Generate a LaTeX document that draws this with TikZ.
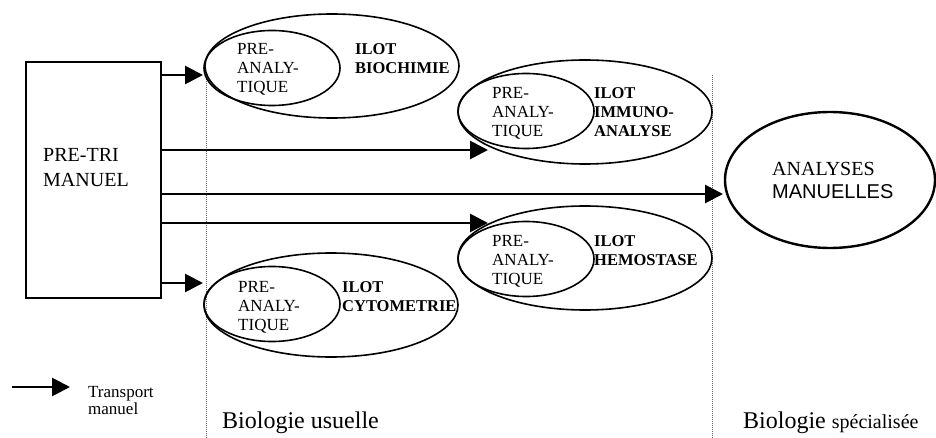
\documentclass[tikz,border=0pt]{standalone}
\usepackage{fontspec}
\setmainfont{Liberation Serif}
\newfontfamily\arialfont{Liberation Sans}
\usetikzlibrary{arrows.meta,shapes.geometric}
\newcommand{\fs}[2]{\fontsize{#1}{#2}\selectfont}
\newcommand{\preana}{PRE-\\ANALY-\\TIQUE}

\tikzset{
  ilot/.style={draw,ellipse,line width=1.6pt,inner sep=0pt,minimum width=254pt,minimum height=104pt},
  prebox/.style={draw,ellipse,line width=1.6pt,inner sep=0pt,minimum width=136pt,minimum height=75pt},
  lbl/.style={anchor=north west,inner sep=0pt,align=left,font=\fs{17}{19}},
  transport/.style={line width=2.8pt,-{Triangle[length=18pt,width=18pt]}},
  sep/.style={black!60,line width=0.8pt,dash pattern=on 1pt off 1pt}
}

\begin{document}
\begin{tikzpicture}[x=1pt,y=-1pt]
\useasboundingbox (0,0) rectangle (936,438);
% pre-tri
\node[draw,line width=1.6pt,inner sep=0pt,minimum width=135pt,minimum height=236pt] (tri) at (93.5,180) {};
\node[lbl,font=\fs{20}{25}] (tritxt) at (43,148) {PRE-TRI\\MANUEL};
% separations
\draw[sep] (206,75) -- (206,438);
\draw[sep] (712,75) -- (712,438);
% ilots
\node[ilot] (bio) at (332,66) {};
\node[prebox] (biopre) at (272,68) {};
\node[lbl] (biopretxt) at (237,43) {\preana};
\node[lbl,font=\fs{16.5}{19}\bfseries] (biotxt) at (355,43) {ILOT\\BIOCHIMIE};

\node[ilot] (imm) at (585,112) {};
\node[prebox] (immpre) at (526,111) {};
\node[lbl] (immpretxt) at (492,87) {\preana};
\node[lbl,font=\fs{16.5}{19}\bfseries] (immtxt) at (594,87) {ILOT\\IMMUNO-\\ANALYSE};

\node[ilot] (hem) at (585,258) {};
\node[prebox] (hempre) at (526,259) {};
\node[lbl] (hempretxt) at (492,235) {\preana};
\node[lbl,font=\fs{16.5}{19}\bfseries] (hemtxt) at (594,235) {ILOT\\HEMOSTASE};

\node[ilot] (cyt) at (331,305) {};
\node[prebox] (cytpre) at (272,304) {};
\node[lbl] (cytpretxt) at (238,281) {\preana};
\node[lbl,font=\fs{16.5}{19}\bfseries] (cyttxt) at (342,281) {ILOT\\CYTOMETRIE};

% analyses manuelles
\node[draw,ellipse,line width=2.4pt,inner sep=0pt,minimum width=210pt,minimum height=136pt] (man) at (830,180) {};
\node[lbl,font=\fs{20}{23}] (mantxt) at (772,162) {ANALYSES\\{\arialfont MANUELLES}};

% transports
\coordinate (e1) at (203,75);
\coordinate (e2) at (488,150);
\coordinate (e3) at (723,194);
\coordinate (e4) at (488,223);
\coordinate (e5) at (203,283);
\foreach \e in {e1,e2,e3,e4,e5}
  \draw[transport] (tri.east |- \e) -- (\e);

% legende
\coordinate (l0) at (12,387);
\coordinate (l1) at (70,387);
\draw[transport] (l0) -- (l1);
\node[lbl,font=\fs{17}{17}] (legtxt) at (88,386) {Transport\\manuel};
\node[anchor=base west,inner sep=0pt,font=\fs{24}{26}] (usu) at (222,428) {Biologie usuelle};
\node[anchor=base west,inner sep=0pt,font=\fs{24}{26}] (spe) at (743,428) {Biologie {\fs{20}{22}spécialisée}};
\end{tikzpicture}
\end{document}
